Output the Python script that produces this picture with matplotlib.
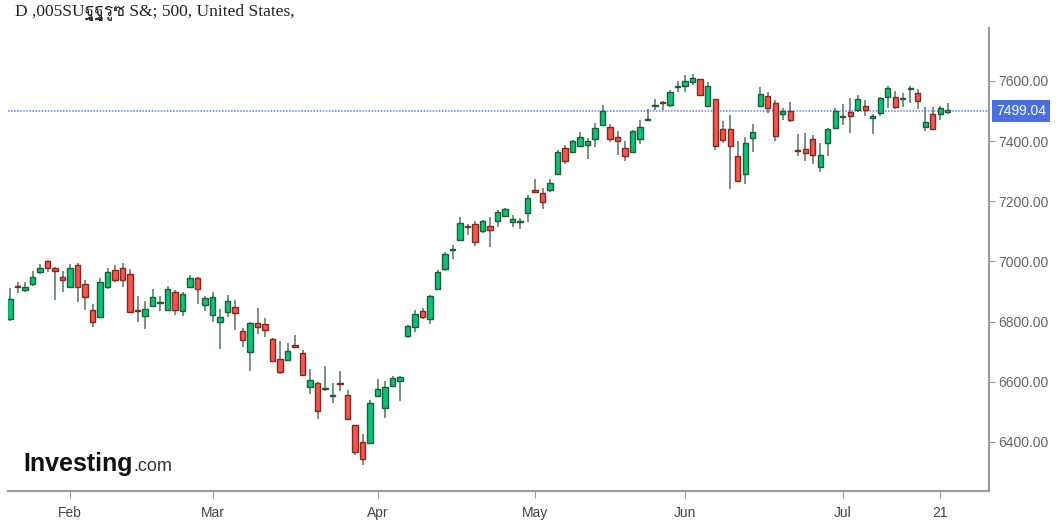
import numpy as np
import matplotlib.pyplot as plt
from matplotlib import font_manager
from matplotlib.ft2font import FT2Font

# daily OHLC
opens = [6810, 6917, 6906, 6924, 6965, 7002, 6978, 6950, 6915, 6987,
         6925, 6837, 6815, 6915, 6973, 6978, 6958, 6836, 6820, 6853,
         6861, 6840, 6898, 6836, 6915, 6945, 6856, 6823, 6799, 6832,
         6849, 6770, 6699, 6796, 6791, 6742, 6676, 6674, 6718, 6696,
         6583, 6596, 6576, 6552, 6594, 6555, 6455, 6400, 6397, 6554,
         6513, 6587, 6601, 6753, 6782, 6836, 6809, 6909, 6976, 7037,
         7072, 7114, 7124, 7102, 7119, 7135, 7152, 7131, 7132, 7161,
         7233, 7227, 7236, 7291, 7377, 7363, 7385, 7388, 7407, 7454,
         7446, 7413, 7377, 7365, 7407, 7469, 7516, 7527, 7520, 7580,
         7583, 7596, 7606, 7517, 7539, 7440, 7440, 7352, 7290, 7410,
         7517, 7551, 7526, 7489, 7500, 7369, 7373, 7407, 7313, 7393,
         7443, 7480, 7496, 7504, 7517, 7476, 7493, 7546, 7546, 7539,
         7573, 7559, 7446, 7489, 7489, 7498]
highs = [6913, 6933, 6933, 6967, 6992, 7006, 6980, 6967, 6992, 6996,
         6939, 6859, 6945, 6978, 6989, 6995, 6976, 6884, 6867, 6908,
         6884, 6917, 6906, 6900, 6956, 6950, 6886, 6900, 6843, 6890,
         6873, 6779, 6799, 6845, 6812, 6745, 6734, 6729, 6757, 6705,
         6641, 6598, 6651, 6596, 6635, 6574, 6457, 6427, 6541, 6610,
         6602, 6618, 6618, 6790, 6840, 6845, 6890, 6970, 7030, 7055,
         7149, 7124, 7136, 7139, 7149, 7172, 7177, 7155, 7144, 7222,
         7275, 7244, 7274, 7371, 7388, 7404, 7432, 7410, 7460, 7520,
         7457, 7435, 7399, 7437, 7470, 7506, 7539, 7532, 7570, 7601,
         7620, 7623, 7608, 7596, 7541, 7468, 7487, 7399, 7415, 7457,
         7581, 7564, 7537, 7509, 7531, 7424, 7428, 7421, 7393, 7443,
         7509, 7523, 7543, 7554, 7537, 7490, 7548, 7583, 7568, 7561,
         7583, 7572, 7515, 7515, 7517, 7526]
lows = [6803, 6896, 6900, 6920, 6959, 6964, 6873, 6898, 6915, 6866,
        6840, 6782, 6815, 6908, 6932, 6915, 6829, 6798, 6776, 6849,
        6836, 6836, 6823, 6820, 6915, 6860, 6834, 6798, 6709, 6815,
        6771, 6716, 6635, 6760, 6749, 6668, 6627, 6670, 6716, 6622,
        6561, 6475, 6568, 6530, 6568, 6475, 6358, 6322, 6395, 6552,
        6478, 6583, 6535, 6747, 6766, 6809, 6793, 6904, 6967, 7009,
        7072, 7089, 7050, 7094, 7048, 7114, 7150, 7116, 7109, 7131,
        7231, 7175, 7232, 7291, 7324, 7360, 7382, 7340, 7380, 7454,
        7398, 7354, 7335, 7360, 7391, 7467, 7504, 7504, 7513, 7564,
        7564, 7587, 7554, 7517, 7371, 7395, 7240, 7268, 7258, 7365,
        7515, 7493, 7402, 7471, 7462, 7349, 7335, 7324, 7296, 7349,
        7443, 7454, 7428, 7498, 7482, 7424, 7485, 7511, 7507, 7515,
        7528, 7506, 7434, 7441, 7471, 7489]
closes = [6876, 6914, 6916, 6950, 6978, 6978, 6968, 6939, 6978, 6915,
          6882, 6800, 6932, 6966, 6940, 6939, 6832, 6835, 6842, 6882,
          6863, 6908, 6838, 6892, 6945, 6908, 6879, 6882, 6815, 6870,
          6829, 6740, 6796, 6782, 6773, 6670, 6633, 6701, 6717, 6624,
          6605, 6504, 6578, 6554, 6592, 6477, 6367, 6344, 6530, 6576,
          6583, 6612, 6616, 6784, 6825, 6815, 6886, 6966, 7025, 7040,
          7128, 7113, 7065, 7136, 7105, 7166, 7174, 7141, 7133, 7211,
          7232, 7199, 7260, 7365, 7334, 7399, 7413, 7402, 7443, 7501,
          7407, 7399, 7351, 7435, 7446, 7471, 7518, 7526, 7562, 7582,
          7601, 7609, 7554, 7584, 7384, 7404, 7384, 7268, 7393, 7432,
          7556, 7509, 7417, 7500, 7471, 7367, 7360, 7354, 7354, 7440,
          7501, 7482, 7484, 7539, 7504, 7485, 7543, 7576, 7513, 7541,
          7575, 7534, 7462, 7441, 7509, 7499.04]

tick_pos = [8, 27, 49, 70, 90, 111, 124]
tick_labels = ['Feb', 'Mar', 'Apr', 'May', 'Jun', 'Jul', '21']
y_ticks = [6400, 6600, 6800, 7000, 7200, 7400, 7600]
last_price = 7499.04
title_head = 'D ,005SU'
title_odd = 'ฐูฐูรูซ'
title_tail = ' S&; 500, United States,'

# look for any installed font that covers the Thai-looking glyphs of the title
thai_family = None
for fe in font_manager.fontManager.ttflist:
    try:
        if ord(title_odd[0]) in FT2Font(fe.fname).get_charmap():
            thai_family = fe.name
            break
    except Exception:
        pass
if thai_family is None:
    title = title_head + title_tail
    title_fams = ['Liberation Serif', 'DejaVu Serif']
else:
    title = title_head + title_odd + title_tail
    title_fams = ['Liberation Serif', thai_family, 'DejaVu Serif']

o = np.array(opens, dtype=float)
h = np.array(highs, dtype=float)
l = np.array(lows, dtype=float)
c = np.array(closes, dtype=float)
x = np.arange(len(o))
up = c >= o

fig = plt.figure(figsize=(10.59, 5.21), dpi=100)
ax = fig.add_axes([0.0076, 0.0576, 0.9263, 0.8886])

green, green_edge = '#0cc275', '#1d5c3b'
red, red_edge = '#f5564e', '#7c2a22'

ax.vlines(x, l, h, color='#557362', linewidth=1.1, zorder=2)
body_low = np.minimum(o, c)
body_h = np.maximum(np.abs(c - o), 4)
ax.bar(x[up], body_h[up], bottom=body_low[up], width=0.72,
       color=green, edgecolor=green_edge, linewidth=1.0, zorder=3)
ax.bar(x[~up], body_h[~up], bottom=body_low[~up], width=0.72,
       color=red, edgecolor=red_edge, linewidth=1.0, zorder=3)

ax.axhline(last_price, color='#5b7cf0', linestyle=(0, (1, 1)), linewidth=1.1, zorder=1)

ax.set_xlim(-0.27, 130.5)
ax.set_ylim(6237, 7776)

for side in ['left', 'top']:
    ax.spines[side].set_visible(False)
for side in ['right', 'bottom']:
    ax.spines[side].set_color('#9a9a9a')
    ax.spines[side].set_linewidth(1.5)

ax.yaxis.tick_right()
ax.set_yticks(y_ticks)
ax.set_yticklabels([f'{v:.2f}' for v in y_ticks])
ax.set_xticks(tick_pos)
ax.set_xticklabels(tick_labels)
ax.tick_params(axis='y', colors='#9a9a9a', labelcolor='#666666', labelsize=10,
               length=4, pad=3)
ax.tick_params(axis='x', colors='#9a9a9a', labelcolor='#444444', labelsize=10,
               length=5, pad=6)
for t in ax.get_xticklabels() + ax.get_yticklabels():
    t.set_fontfamily('Liberation Sans')

ax.annotate(f'{last_price:.2f}', xy=(1.0, last_price),
            xycoords=('axes fraction', 'data'), xytext=(5, 0),
            textcoords='offset points', va='center', ha='left',
            color='white', fontsize=10, family='Liberation Sans',
            bbox=dict(boxstyle='square,pad=0.28', fc='#4a6fe3', ec='none'),
            annotation_clip=False)

fig.text(0.014, 0.977, title, family=title_fams,
         fontsize=12.5, color='#222222', va='center')

fig.text(0.022, 0.109, 'Investing', family='Liberation Sans', weight='bold',
         fontsize=18, color='#111111', va='center')
fig.text(0.1255, 0.104, '.com', family='Liberation Sans', fontsize=13,
         color='#333333', va='center')

fig.savefig('out.png', dpi=100)
